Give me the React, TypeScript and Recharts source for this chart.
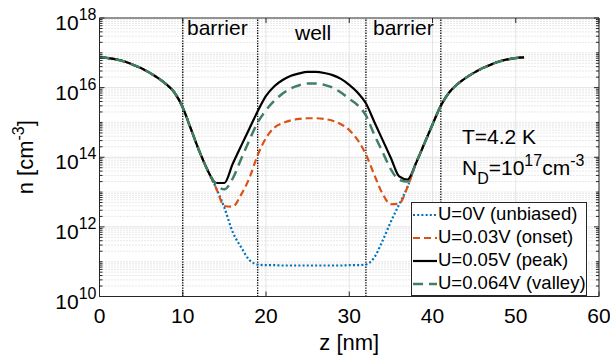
import React from 'react';
import {
  LineChart,
  Line,
  XAxis,
  YAxis,
  CartesianGrid,
  ReferenceLine,
  Legend
} from 'recharts';

// position z [nm]
const zValues = [
  0, 1, 2, 3, 4, 5, 6, 7, 8, 9, 10, 11, 12, 13, 14, 15, 16, 17, 18, 19, 20, 21, 22, 23, 24, 25,
  26, 27, 28, 29, 30, 31, 32, 33, 34, 35, 36, 37, 38, 39, 40, 41, 42, 43, 44, 45, 46, 47, 48, 49, 50, 51
];

// log10 of n [cm^-3]
const logUnbiased = [
  16.87, 16.85, 16.81, 16.75, 16.66, 16.56, 16.43, 16.28, 16.1, 15.86, 15.43, 14.8, 14.17, 13.62,
  13.12, 12.55, 11.85, 11.42, 11.05, 10.92, 10.9, 10.9, 10.89, 10.89, 10.89, 10.89,
  10.89, 10.89, 10.89, 10.89, 10.9, 10.9, 10.92, 11.12, 11.6, 12.15, 12.65, 13.15,
  13.82, 14.38, 14.94, 15.48, 15.86, 16.1, 16.28, 16.43, 16.56, 16.66, 16.75, 16.81, 16.85, 16.87
];
const logOnset = [
  16.87, 16.85, 16.81, 16.75, 16.66, 16.56, 16.43, 16.28, 16.1, 15.86, 15.43, 14.8, 14.17, 13.62,
  13.12, 12.6, 12.58, 12.92, 13.4, 14.06, 14.55, 14.85, 14.98, 15.06, 15.1, 15.12,
  15.12, 15.1, 15.05, 14.95, 14.78, 14.5, 14.08, 13.5, 12.95, 12.65, 12.67, 13.15,
  13.82, 14.38, 14.94, 15.48, 15.86, 16.1, 16.28, 16.43, 16.56, 16.66, 16.75, 16.81, 16.85, 16.87
];
const logPeak = [
  16.87, 16.85, 16.81, 16.75, 16.66, 16.56, 16.43, 16.28, 16.1, 15.86, 15.43, 14.8, 14.17, 13.62,
  13.26, 13.26, 13.81, 14.32, 14.82, 15.32, 15.76, 16.04, 16.22, 16.34, 16.41, 16.45,
  16.45, 16.42, 16.36, 16.25, 16.08, 15.86, 15.55, 15.02, 14.5, 13.98, 13.45, 13.36,
  13.82, 14.38, 14.94, 15.48, 15.86, 16.1, 16.28, 16.43, 16.56, 16.66, 16.75, 16.81, 16.85, 16.87
];
const logValley = [
  16.87, 16.85, 16.81, 16.75, 16.66, 16.56, 16.43, 16.28, 16.1, 15.86, 15.43, 14.8, 14.17, 13.62,
  13.22, 13.08, 13.39, 13.94, 14.49, 15.0, 15.35, 15.62, 15.83, 15.98, 16.07, 16.12,
  16.12, 16.08, 16.0, 15.86, 15.68, 15.5, 15.2, 14.65, 14.15, 13.65, 13.35, 13.3,
  13.82, 14.38, 14.94, 15.48, 15.86, 16.1, 16.28, 16.43, 16.56, 16.66, 16.75, 16.81, 16.85, 16.87
];

const xTicks = [0, 10, 20, 30, 40, 50, 60];
const yMajorTicks = [1e10, 1e12, 1e14, 1e16, 1e18];
const barrierEdges = [10, 19, 32, 41];

const series = [
  { key: 'u0', name: 'U=0V (unbiased)', color: '#0072BD', dash: '2 2.2', width: 2.2 },
  { key: 'u003', name: 'U=0.03V (onset)', color: '#D95319', dash: '7 4', width: 2.2 },
  { key: 'u005', name: 'U=0.05V (peak)', color: '#000000', dash: undefined, width: 2.2 },
  { key: 'u0064', name: 'U=0.064V (valley)', color: '#3f7f62', dash: '10 6', width: 2.5 }
];

const chartData = zValues.map((z, i) => ({
  z,
  u0: 10 ** logUnbiased[i],
  u003: 10 ** logOnset[i],
  u005: 10 ** logPeak[i],
  u0064: 10 ** logValley[i]
}));

// minor log ticks / grid: k * 10^e
const yMinor: number[] = [];
for (let e = 10; e < 18; e++) {
  for (let k = 1; k <= 9; k++) {
    if (k === 1 && e % 2 === 0) continue;
    yMinor.push(k * 10 ** e);
  }
}
const yAllTicks = [...yMajorTicks, ...yMinor].sort((a, b) => a - b);

const W = 610;
const H = 356;
const PLOT_TOP = 18;
const PLOT_RIGHT = 599;
const AXIS = '#262626';
const FONT = '"Liberation Sans", Arial, Helvetica, sans-serif';

const XTick = (props: any) => {
  const { x, y, payload } = props;
  return (
    <g>
      <line x1={x} x2={x} y1={y} y2={y - 5} stroke={AXIS} />
      <line x1={x} x2={x} y1={PLOT_TOP} y2={PLOT_TOP + 5} stroke={AXIS} />
      <text x={x} y={y + 26} textAnchor="middle" fontSize={21} fill="#000" fontFamily={FONT}>
        {payload.value}
      </text>
    </g>
  );
};

const YTick = (props: any) => {
  const { x, y, payload } = props;
  const v = payload.value;
  const major = yMajorTicks.includes(v);
  const len = major ? 5 : 3;
  const exp = Math.round(Math.log10(v));
  return (
    <g>
      <line x1={x} x2={x + len} y1={y} y2={y} stroke={AXIS} />
      <line x1={PLOT_RIGHT} x2={PLOT_RIGHT - len} y1={y} y2={y} stroke={AXIS} />
      {major && (
        <text x={x - 3} y={y + 12} textAnchor="end" fontSize={21} fill="#000" fontFamily={FONT}>
          10
          <tspan dy={-10} fontSize={16}>
            {exp}
          </tspan>
        </text>
      )}
    </g>
  );
};

const YLabel = (props: any) => {
  const vb = props.viewBox || { y: PLOT_TOP, height: 278.5 };
  const cy = vb.y + vb.height / 2;
  return (
    <text transform="rotate(-90)" x={-cy} y={33} textAnchor="middle" fontSize={22} fill="#000" fontFamily={FONT}>
      n [cm
      <tspan dy={-9} fontSize={16}>
        -3
      </tspan>
      <tspan dy={9}>]</tspan>
    </text>
  );
};

const LegendBox = () => (
  <div
    style={{
      width: 174,
      height: 92,
      border: `1px solid ${AXIS}`,
      background: '#fff',
      fontFamily: FONT,
      fontSize: 18.5,
      color: '#000'
    }}
  >
    {series.map((s) => (
      <div key={s.key} style={{ height: 23, display: 'flex', alignItems: 'center' }}>
        <svg width={26} height={10} style={{ flex: 'none' }}>
          <line
            x1={1}
            x2={25}
            y1={5}
            y2={5}
            stroke={s.color}
            strokeWidth={s.width}
            strokeDasharray={s.dash}
          />
        </svg>
        <span style={{ whiteSpace: 'nowrap', lineHeight: 1 }}>{s.name}</span>
      </div>
    ))}
  </div>
);

export default function App() {
  return (
    <div style={{ position: 'absolute', left: 0, top: 0, width: W, height: H, background: '#fff', fontFamily: FONT }}>
      <LineChart width={W} height={H} data={chartData} margin={{ top: PLOT_TOP, right: W - PLOT_RIGHT, bottom: 0, left: 0 }}>
        <CartesianGrid horizontal={false} stroke="#e6e6e6" />
        {yMinor.map((v) => (
          <ReferenceLine key={'m' + v} y={v} stroke="#d2d2d2" strokeDasharray="1 2" />
        ))}
        {yMajorTicks.slice(1, -1).map((v) => (
          <ReferenceLine key={'M' + v} y={v} stroke="#e3e3e3" />
        ))}
        {barrierEdges.map((b) => (
          <ReferenceLine key={'b' + b} x={b} stroke="#000" strokeWidth={1.3} strokeDasharray="1.3 1.3" />
        ))}
        <ReferenceLine y={1e18} stroke={AXIS} />
        <ReferenceLine x={60} stroke={AXIS} />
        <XAxis
          dataKey="z"
          type="number"
          domain={[0, 60]}
          ticks={xTicks}
          interval={0}
          height={59.5}
          tickSize={0}
          tickMargin={0}
          tickLine={false}
          axisLine={{ stroke: AXIS }}
          tick={<XTick />}
          label={{ value: 'z [nm]', position: 'insideBottom', offset: 6, fontSize: 22, fill: '#000', fontFamily: FONT }}
        />
        <YAxis
          scale="log"
          domain={[1e10, 1e18]}
          allowDataOverflow
          ticks={yAllTicks}
          interval={0}
          width={99.5}
          tickSize={0}
          tickMargin={0}
          tickLine={false}
          axisLine={{ stroke: AXIS }}
          tick={<YTick />}
          label={<YLabel />}
        />
        {series.map((s) => (
          <Line
            key={s.key}
            dataKey={s.key}
            name={s.name}
            type="monotone"
            stroke={s.color}
            strokeWidth={s.width}
            strokeDasharray={s.dash}
            dot={false}
            activeDot={false}
            isAnimationActive={false}
          />
        ))}
        <Legend
          layout="horizontal"
          verticalAlign="middle"
          align="center"
          content={<LegendBox />}
          wrapperStyle={{ left: 411, top: 202, width: 176, height: 94 }}
        />
      </LineChart>
      <svg
        width={W}
        height={H}
        style={{ position: 'absolute', left: 0, top: 0, pointerEvents: 'none' }}
        fontFamily={FONT}
        fill="#000"
      >
        <text x={187} y={35} fontSize={21}>barrier</text>
        <text x={295} y={40} fontSize={21}>well</text>
        <text x={373} y={35} fontSize={21}>barrier</text>
        <text x={462} y={144} fontSize={21}>T=4.2 K</text>
        <text x={462} y={175} fontSize={21}>
          N
          <tspan dy={9} fontSize={16}>D</tspan>
          <tspan dy={-9}>=10</tspan>
          <tspan dy={-9} fontSize={16}>17</tspan>
          <tspan dy={9}>cm</tspan>
          <tspan dy={-9} fontSize={16}>-3</tspan>
        </text>
      </svg>
    </div>
  );
}
